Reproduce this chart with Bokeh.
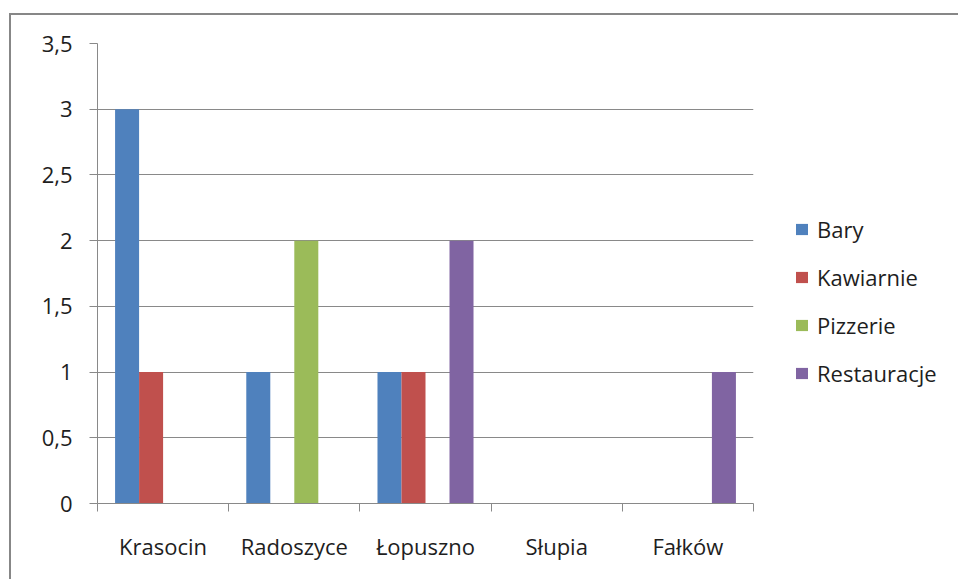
from bokeh.plotting import figure
from bokeh.models import (Range1d, LinearAxis, FixedTicker, Legend, LegendItem)
from bokeh.embed import file_html
from bokeh.resources import INLINE

categories = ["Krasocin", "Radoszyce", "Łopuszno", "Słupia", "Fałków"]
series_names = ["Bary", "Kawiarnie", "Pizzerie", "Restauracje"]
bary = [3, 1, 1, 0, 0]
kawiarnie = [1, 0, 1, 0, 0]
pizzerie = [0, 2, 0, 0, 0]
restauracje = [0, 0, 2, 0, 1]
y_ticks = [0, 0.5, 1, 1.5, 2, 2.5, 3, 3.5]
y_tick_labels = ["0", "0,5", "1", "1,5", "2", "2,5", "3", "3,5"]
colors = ["#4F81BD", "#C0504D", "#9BBB59", "#8064A2"]

FONT = "Open Sans"
FS = "22px"
TXT = "#1e1e1e"
GRAY = "#898989"

series_values = [bary, kawiarnie, pizzerie, restauracje]
n = len(categories)
centers = [i + 0.5 for i in range(n)]
boundaries = list(range(n + 1))

p = figure(x_range=Range1d(0, n), y_range=Range1d(0, 3.5),
           frame_width=656, frame_height=460,
           x_axis_location=None,
           output_backend="svg", toolbar_location=None,
           min_border_left=86, min_border_top=28, min_border_bottom=76,
           min_border_right=200)
p.outline_line_color = None
for g in p.xgrid:
    g.visible = False

bw = 0.183
items = []
for i, (name, col, vals) in enumerate(zip(series_names, colors, series_values)):
    xs = [c + (i - 1.5) * bw for c in centers]
    r = p.vbar(x=xs, top=vals, width=bw, bottom=0,
               fill_color=col, line_color=None)
    items.append(LegendItem(label=name, renderers=[r]))

# y axis
ya = p.yaxis[0]
ya.ticker = FixedTicker(ticks=y_ticks)
ya.major_label_overrides = {t: l for t, l in zip(y_ticks, y_tick_labels)}
ya.major_tick_out = 8
ya.major_tick_in = 0
ya.minor_tick_line_color = None
ya.axis_line_color = GRAY
ya.major_tick_line_color = GRAY
ya.major_label_standoff = 17
ya.major_label_text_font = FONT
ya.major_label_text_font_size = FS
ya.major_label_text_color = TXT

p.ygrid.ticker = FixedTicker(ticks=y_ticks)
p.ygrid.grid_line_color = GRAY
p.ygrid.grid_line_width = 1

# x axis: labels at category centers, tick marks at category boundaries
xa = LinearAxis(ticker=FixedTicker(ticks=centers, minor_ticks=boundaries),
                major_label_overrides={c: lab for c, lab in zip(centers, categories)},
                axis_line_color=GRAY,
                major_tick_line_color=None, major_tick_out=8, major_tick_in=0,
                minor_tick_line_color=GRAY, minor_tick_out=8, minor_tick_in=0,
                major_label_standoff=19,
                major_label_text_font=FONT,
                major_label_text_font_size=FS,
                major_label_text_color=TXT)
p.add_layout(xa, "below")

legend = Legend(items=items, location=(41, 115), orientation="vertical",
                glyph_width=15, glyph_height=14, label_standoff=8,
                label_height=20, spacing=18, padding=0, margin=0,
                border_line_color=None, background_fill_alpha=0,
                label_text_font=FONT, label_text_font_size=FS,
                label_text_color=TXT)
p.add_layout(legend, "right")

p.styles = {"border-left": "2px solid #878787", "border-top": "2px solid #878787"}
p.margin = (13, 0, 0, 9)

open("out.html", "w").write(file_html(p, INLINE))
